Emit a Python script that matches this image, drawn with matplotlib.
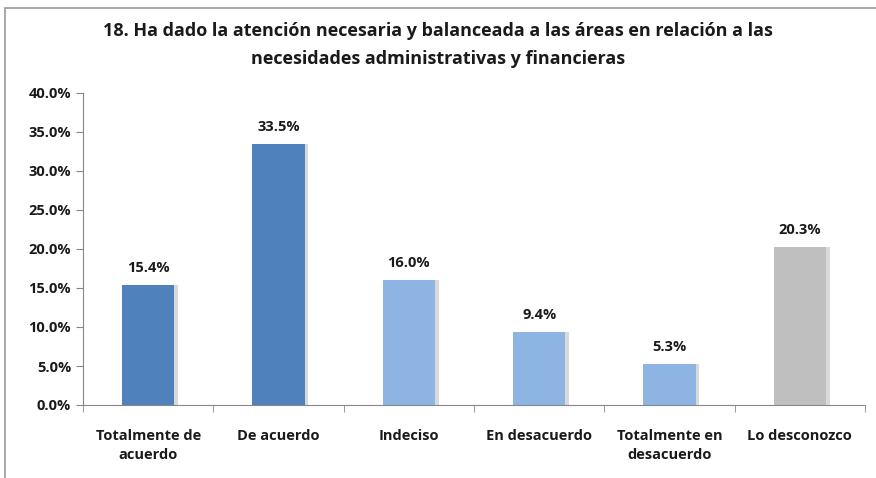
import matplotlib
matplotlib.use("Agg")
import matplotlib.pyplot as plt
from matplotlib.patches import Rectangle
from matplotlib.ticker import FuncFormatter, MultipleLocator

categories = ["Totalmente de\nacuerdo", "De acuerdo", "Indeciso", "En desacuerdo",
              "Totalmente en\ndesacuerdo", "Lo desconozco"]
values = [15.4, 33.5, 16.0, 9.4, 5.3, 20.3]
labels = ["15.4%", "33.5%", "16.0%", "9.4%", "5.3%", "20.3%"]
colors = ["#4F81BD", "#4F81BD", "#8DB4E2", "#8DB4E2", "#8DB4E2", "#BFBFBF"]
title = "18. Ha dado la atención necesaria y balanceada a las áreas en relación a las\nnecesidades administrativas y financieras"

plt.rcParams['font.family'] = ['Open Sans', 'DejaVu Sans']

fig = plt.figure(figsize=(8.76, 4.78), dpi=100)
ax = fig.add_axes([83/876, 1 - 405/478, (865-83)/876, (405-93)/478])

x = list(range(len(categories)))
# shadow
ax.bar([i + 0.03 for i in x], values, width=0.4, color="#d9d9d9", zorder=1)
ax.bar(x, values, width=0.4, color=colors, zorder=2)
for i, (v, lab) in enumerate(zip(values, labels)):
    ax.text(i, v + 1.3, lab, ha="center", va="bottom", fontsize=10.5, fontweight="bold", color="#1a1a1a")

ax.set_ylim(0, 40)
ax.set_xlim(-0.5, len(categories) - 0.5)
ax.yaxis.set_major_locator(MultipleLocator(5))
ax.yaxis.set_major_formatter(FuncFormatter(lambda v, p: f"{v:.1f}%"))
ax.set_xticks(x)
ax.set_xticklabels(categories, fontsize=10.5, fontweight="bold", color="#1a1a1a", linespacing=1.45)
ax.set_xticks([i + 0.5 for i in x[:-1]] + [-0.5, len(x) - 0.5], minor=True)
ax.tick_params(axis="x", which="major", length=0, pad=17)
ax.tick_params(axis="x", which="minor", length=5, color="#888888")
ax.tick_params(axis="y", length=5, color="#888888", labelsize=10.5)
for lab in ax.get_yticklabels():
    lab.set_fontweight("bold")
    lab.set_color("#1a1a1a")
for s in ["top", "right"]:
    ax.spines[s].set_visible(False)
ax.spines["left"].set_color("#888888")
ax.spines["bottom"].set_color("#888888")

fig.text(0.5, 1 - 45/478, title, ha="center", va="center", fontsize=13,
         fontweight="bold", color="#1a1a1a", linespacing=1.75)

fig.patches.append(Rectangle((5/876, -0.1), 2, 1.1 - 8/478, transform=fig.transFigure,
                             fill=False, edgecolor="#9a9a9a", linewidth=1.2))
ax.set_facecolor("none")
fig.savefig("out.png", dpi=100)
